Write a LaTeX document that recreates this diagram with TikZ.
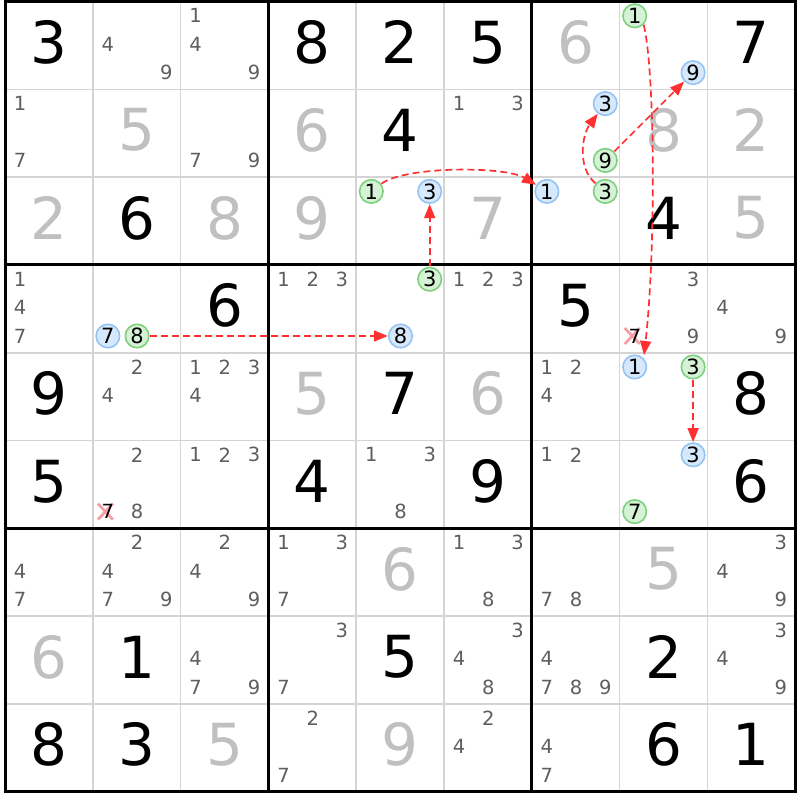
\documentclass[tikz,border=0pt]{standalone}
\usepackage{fontspec}
\setmainfont{DejaVu Sans}
\usetikzlibrary{arrows.meta}
\definecolor{candc}{HTML}{5E5E5E}
\definecolor{solvedc}{HTML}{C0C0C0}
\definecolor{thinc}{HTML}{D4D4D4}
\definecolor{gfill}{HTML}{D6F2D6}
\definecolor{gdraw}{HTML}{7ED07E}
\definecolor{bfill}{HTML}{D6E8FB}
\definecolor{bdraw}{HTML}{96C4F2}
\definecolor{arrred}{HTML}{FF3030}
\definecolor{xmarkc}{HTML}{F4A0A6}
\tikzset{
  bigstyle/.style={inner sep=0pt, font=\fontsize{58}{58}\selectfont},
  candstyle/.style={inner sep=0pt, text=candc, font=\fontsize{19.5}{19.5}\selectfont},
  gcirc/.style={circle, draw=gdraw, fill=gfill, line width=1.6pt, minimum size=23.5pt, inner sep=0pt, outer sep=1pt, text=black, font=\fontsize{21}{21}\selectfont},
  bcirc/.style={circle, draw=bdraw, fill=bfill, line width=1.6pt, minimum size=23.5pt, inner sep=0pt, outer sep=1pt, text=black, font=\fontsize{21}{21}\selectfont},
  arr/.style={draw=arrred, line width=1.7pt, dash pattern=on 7pt off 4pt, -{Triangle[length=14pt,width=11pt]}},
  xline/.style={draw=xmarkc, line width=2.8pt},
}
\newcommand\candpos[3]{%
  \pgfmathsetmacro\cx{5+87.8*(#2-1)+15.1+29.2*mod(#3-1,3)}%
  \pgfmathsetmacro\cy{1.5+87.8*(#1-1)+14.3+28.4*int((#3-1)/3)}%
}
\newcommand\bigd[4]{%
  \node[bigstyle, text=#4] (d#1#2) at ({5+87.8*(#2-0.5)},{1.5+87.8*(#1-0.5)-3}) {#3};}
\newcommand\onecand[3]{\candpos{#1}{#2}{#3}\node[candstyle] (c#1#2#3) at (\cx,\cy) {#3};}
\newcommand\cands[3]{\foreach \dd in {#3}{\onecand{#1}{#2}{\dd}}}
\newcommand\xcand[3]{\candpos{#1}{#2}{#3}%
  \draw[xline] (\cx-10,\cy-8) -- (\cx+5,\cy+8);
  \draw[xline] (\cx-10,\cy+8) -- (\cx+5,\cy-8);
  \node[candstyle, text=black] (c#1#2#3) at (\cx,\cy) {#3};}
\newcommand\gcand[4]{\candpos{#2}{#3}{#4}\node[gcirc] (#1) at (\cx,\cy) {#4};}
\newcommand\bcand[4]{\candpos{#2}{#3}{#4}\node[bcirc] (#1) at (\cx,\cy) {#4};}
\begin{document}
\begin{tikzpicture}[x=1pt,y=-1pt]
\useasboundingbox (0,0) rectangle (800,800);
\fill[white] (0,0) rectangle (800,800);
% thin lines
\foreach \i in {1,2,4,5,7,8}{
  \draw[thinc, line width=1.6pt] ({5+87.8*\i},1.5) -- ({5+87.8*\i},791.7);
  \draw[thinc, line width=1.6pt] (5,{1.5+87.8*\i}) -- (795.2,{1.5+87.8*\i});
}
\foreach \i in {3,6}{
  \draw[black, line width=3pt] ({5+87.8*\i},1.5) -- ({5+87.8*\i},791.7);
  \draw[black, line width=3pt] (5,{1.5+87.8*\i}) -- (795.2,{1.5+87.8*\i});
}
\draw[black, line width=3pt] (5,1.5) rectangle (795.2,791.7);
% row 1
\bigd{1}{1}{3}{black} \cands{1}{2}{4,9} \cands{1}{3}{1,4,9}
\bigd{1}{4}{8}{black} \bigd{1}{5}{2}{black} \bigd{1}{6}{5}{black}
\bigd{1}{7}{6}{solvedc} \gcand{ga}{1}{8}{1} \bcand{bc}{1}{8}{9} \bigd{1}{9}{7}{black}
% row 2
\cands{2}{1}{1,7} \bigd{2}{2}{5}{solvedc} \cands{2}{3}{7,9}
\bigd{2}{4}{6}{solvedc} \bigd{2}{5}{4}{black} \cands{2}{6}{1,3}
\bcand{bd}{2}{7}{3} \gcand{gc}{2}{7}{9} \bigd{2}{8}{8}{solvedc} \bigd{2}{9}{2}{solvedc}
% row 3
\bigd{3}{1}{2}{solvedc} \bigd{3}{2}{6}{black} \bigd{3}{3}{8}{solvedc}
\bigd{3}{4}{9}{solvedc} \gcand{ge}{3}{5}{1} \bcand{bf}{3}{5}{3} \bigd{3}{6}{7}{solvedc}
\bcand{bg}{3}{7}{1} \gcand{gh}{3}{7}{3} \bigd{3}{8}{4}{black} \bigd{3}{9}{5}{solvedc}
% row 4
\cands{4}{1}{1,4,7} \bcand{bi}{4}{2}{7} \gcand{gj}{4}{2}{8} \bigd{4}{3}{6}{black}
\cands{4}{4}{1,2,3} \gcand{gk}{4}{5}{3} \bcand{bl}{4}{5}{8} \cands{4}{6}{1,2,3}
\bigd{4}{7}{5}{black} \xcand{4}{8}{7} \cands{4}{8}{3,9} \cands{4}{9}{4,9}
% row 5
\bigd{5}{1}{9}{black} \cands{5}{2}{2,4} \cands{5}{3}{1,2,3,4}
\bigd{5}{4}{5}{solvedc} \bigd{5}{5}{7}{black} \bigd{5}{6}{6}{solvedc}
\cands{5}{7}{1,2,4} \bcand{bm}{5}{8}{1} \gcand{gn}{5}{8}{3} \bigd{5}{9}{8}{black}
% row 6
\bigd{6}{1}{5}{black} \xcand{6}{2}{7} \cands{6}{2}{2,8} \cands{6}{3}{1,2,3}
\bigd{6}{4}{4}{black} \cands{6}{5}{1,3,8} \bigd{6}{6}{9}{black}
\cands{6}{7}{1,2} \bcand{bo}{6}{8}{3} \gcand{gp}{6}{8}{7} \bigd{6}{9}{6}{black}
% row 7
\cands{7}{1}{4,7} \cands{7}{2}{2,4,7,9} \cands{7}{3}{2,4,9}
\cands{7}{4}{1,3,7} \bigd{7}{5}{6}{solvedc} \cands{7}{6}{1,3,8}
\cands{7}{7}{7,8} \bigd{7}{8}{5}{solvedc} \cands{7}{9}{3,4,9}
% row 8
\bigd{8}{1}{6}{solvedc} \bigd{8}{2}{1}{black} \cands{8}{3}{4,7,9}
\cands{8}{4}{3,7} \bigd{8}{5}{5}{black} \cands{8}{6}{3,4,8}
\cands{8}{7}{4,7,8,9} \bigd{8}{8}{2}{black} \cands{8}{9}{3,4,9}
% row 9
\bigd{9}{1}{8}{black} \bigd{9}{2}{3}{black} \bigd{9}{3}{5}{solvedc}
\cands{9}{4}{2,7} \bigd{9}{5}{9}{solvedc} \cands{9}{6}{2,4}
\cands{9}{7}{4,7} \bigd{9}{8}{6}{black} \bigd{9}{9}{1}{black}
% arrows
\draw[arr] (ge) .. controls (405,166) and (505,166) .. (bg);
\draw[arr] (gk) -- (bf);
\draw[arr] (gj) -- (bl);
\draw[arr] (gh) .. controls (577,168) and (582,135) .. (bd);
\draw[arr] (gc) -- (bc);
\draw[arr, shorten >=3pt] (ga.south east) .. controls (655,70) and (656,250) .. (bm.north east);
\draw[arr] (gn) -- (bo);
\end{tikzpicture}
\end{document}
